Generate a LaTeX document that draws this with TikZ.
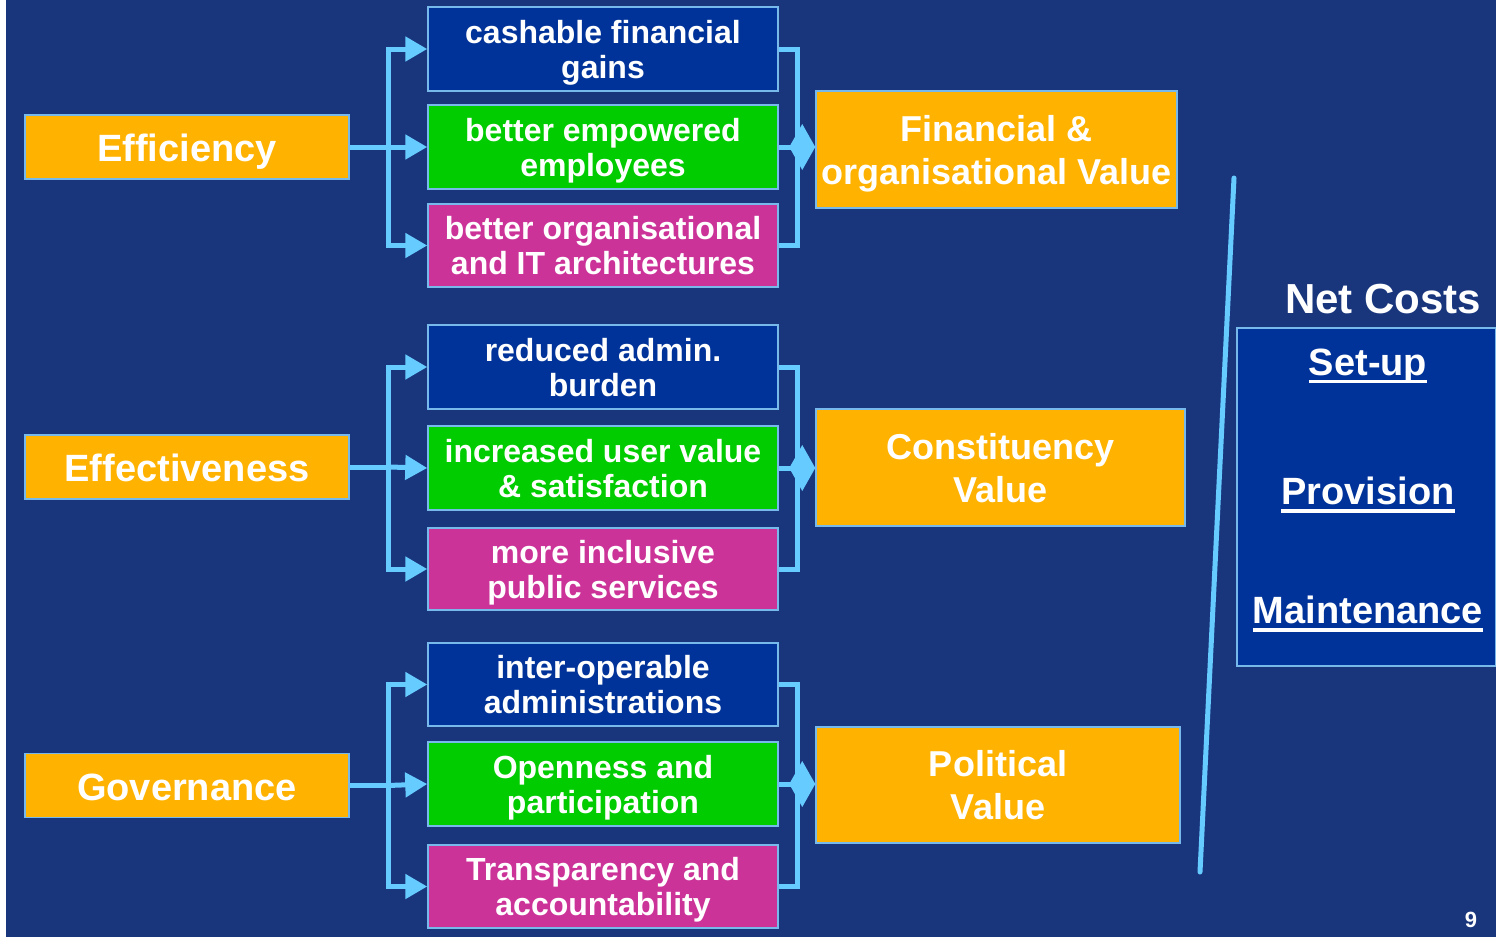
\documentclass[tikz,border=0pt]{standalone}
\usepackage{fontspec}
\setmainfont{Liberation Sans}
\usetikzlibrary{arrows.meta}
\definecolor{bgc}{RGB}{25,54,125}
\definecolor{lblue}{RGB}{102,204,255}
\definecolor{bordc}{RGB}{120,185,235}
\definecolor{dbox}{RGB}{0,51,153}
\definecolor{gbox}{RGB}{0,204,0}
\definecolor{mbox}{RGB}{204,51,153}
\definecolor{obox}{RGB}{255,178,0}
\newcommand{\myul}[1]{\setbox0\hbox{#1}\rlap{\rule[-8pt]{\wd0}{3.5pt}}\box0}
\newcommand{\twol}[2]{\raisebox{0pt}[\height][0pt]{\vbox{\halign{\hfil##\hfil\cr#1\cr#2\cr}}}}
\begin{document}
\begin{tikzpicture}[x=1pt,y=-1pt,
  boxbase/.style={rectangle, draw=bordc, line width=1.5pt, text=white, align=center, inner sep=0pt, font=\bfseries},
  leftbox/.style={boxbase, fill=obox, minimum width=324pt, minimum height=64pt, text height=29pt, text depth=0pt, font=\bfseries\fontsize{38}{42}\selectfont},
  midbox/.style={boxbase, minimum width=350pt, minimum height=84pt, font=\bfseries\fontsize{32}{35}\selectfont},
  bluebox/.style={midbox, fill=dbox},
  greenbox/.style={midbox, fill=gbox},
  magbox/.style={midbox, fill=mbox},
  valbox/.style={boxbase, fill=obox, minimum height=117pt, font=\bfseries\fontsize{36}{43}\selectfont},
  conn/.style={draw=lblue, line width=5pt},
  inarrow/.style={conn, -{Triangle[length=22pt,width=24pt]}},
  outarrow/.style={conn, -{Kite[length=26pt,width=46pt,inset=13pt]}},
  nctext/.style={text=white, inner sep=0pt, font=\bfseries\fontsize{38}{42}\selectfont}
]
\useasboundingbox (0,0) rectangle (1496,937);
\fill[white] (0,0) rectangle (1496,937);
\fill[bgc] (6,0) rectangle (1496,937);

% left boxes
\node[leftbox] (eff) at (187,147) {Efficiency};
\node[leftbox] (efv) at (187,467) {Effectiveness};
\node[leftbox] (gov) at (187,785.5) {Governance};

% middle boxes
\node[bluebox] (a1) at (603,49) {\twol{cashable financial}{gains}};
\node[greenbox] (a2) at (603,147) {\twol{better empowered}{employees}};
\node[magbox, minimum height=83pt] (a3) at (603,245.5) {\twol{better organisational}{and IT architectures}};
\node[bluebox] (b1) at (603,367) {\twol{reduced admin.}{burden}};
\node[greenbox] (b2) at (603,468) {\twol{increased user value}{\& satisfaction}};
\node[magbox, minimum height=82pt] (b3) at (603,569) {\twol{more inclusive}{public services}};
\node[bluebox, minimum height=83pt] (c1) at (603,684.5) {\twol{inter-operable}{administrations}};
\node[greenbox] (c2) at (603,784) {\twol{Openness and}{participation}};
\node[magbox, minimum height=83pt] (c3) at (603,886.5) {\twol{Transparency and}{accountability}};

% value boxes
\node[valbox, minimum width=361pt] (fin) at (996.5,149.5) {\twol{Financial \&}{organisational Value}};
\node[valbox, minimum width=369pt] (con) at (1000.5,467.5) {\twol{Constituency}{Value}};
\node[valbox, minimum width=364pt, minimum height=116pt] (pol) at (998,785) {\twol{Political}{Value}};

% net costs panel
\node[boxbase, fill=dbox, minimum width=259pt, minimum height=338pt] (nc) at (1366.5,497) {};
\node[text=white, font=\bfseries\fontsize{42}{46}\selectfont, inner sep=0pt] (nct) at (1383,299) {Net Costs};
\node[nctext] (n1) at (1368,366) {\myul{Set-up}};
\node[nctext] (n2) at (1368,495) {\myul{Provision}};
\node[nctext] (n3) at (1368,614) {\myul{Maintenance}};
\node[text=white, font=\bfseries\fontsize{22}{24}\selectfont, inner sep=0pt] (pg) at (1471,920) {9};

% divider line
\coordinate (d1) at (1234,178);
\coordinate (d2) at (1200,872);
\draw[conn, line cap=round] (d1) -- (d2);

% junctions
\coordinate (jA) at (388,147);
\coordinate (jB) at (388,467);
\coordinate (jC) at (388,785.5);
\coordinate (kA) at (797,147);
\coordinate (kB) at (797,468);
\coordinate (kC) at (797,784);

% left fan-out
\draw[conn] (eff.east) -- (jA);
\draw[inarrow] (jA) |- (a1.west);
\draw[inarrow] (jA) -- (a2.west);
\draw[inarrow] (jA) |- (a3.west);
\draw[conn] (efv.east) -- (jB);
\draw[inarrow] (jB) |- (b1.west);
\draw[inarrow] (jB) -- (b2.west);
\draw[inarrow] (jB) |- (b3.west);
\draw[conn] (gov.east) -- (jC);
\draw[inarrow] (jC) |- (c1.west);
\draw[inarrow] (jC) -- (c2.west);
\draw[inarrow] (jC) |- (c3.west);

% right brackets
\draw[conn] (a1.east) -| (kA) |- (a3.east);
\draw[outarrow] (a2.east) -- (a2.east -| fin.west);
\draw[conn] (b1.east) -| (kB) |- (b3.east);
\draw[outarrow] (b2.east) -- (b2.east -| con.west);
\draw[conn] (c1.east) -| (kC) |- (c3.east);
\draw[outarrow] (c2.east) -- (c2.east -| pol.west);
\end{tikzpicture}
\end{document}
